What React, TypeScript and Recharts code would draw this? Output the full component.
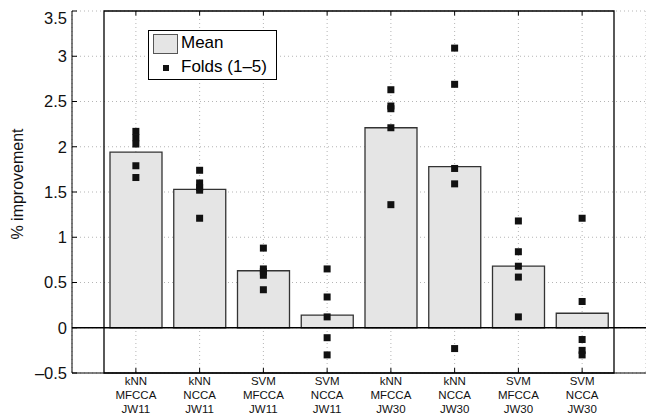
import { ComposedChart, Bar, Scatter, XAxis, YAxis, CartesianGrid, ReferenceLine, ReferenceArea, Legend } from "recharts";

const categories = [
  "kNN\nMFCCA\nJW11",
  "kNN\nNCCA\nJW11",
  "SVM\nMFCCA\nJW11",
  "SVM\nNCCA\nJW11",
  "kNN\nMFCCA\nJW30",
  "kNN\nNCCA\nJW30",
  "SVM\nMFCCA\nJW30",
  "SVM\nNCCA\nJW30",
];

const means = [1.94, 1.53, 0.63, 0.14, 2.21, 1.78, 0.68, 0.16];

// five folds per category
const folds = [
  [2.17, 2.1, 2.03, 1.79, 1.66],
  [1.74, 1.6, 1.55, 1.52, 1.21],
  [0.88, 0.65, 0.62, 0.58, 0.42],
  [0.65, 0.34, 0.12, -0.11, -0.3],
  [2.63, 2.45, 2.42, 2.21, 1.36],
  [3.09, 2.69, 1.76, 1.59, -0.23],
  [1.18, 0.84, 0.68, 0.56, 0.12],
  [1.21, 0.29, -0.13, -0.25, -0.3],
];

const yTicks = [-0.5, 0, 0.5, 1, 1.5, 2, 2.5, 3, 3.5];

const data = categories.map((name, i) => ({
  name,
  mean: means[i],
  f1: folds[i][0],
  f2: folds[i][1],
  f3: folds[i][2],
  f4: folds[i][3],
  f5: folds[i][4],
}));

const font = "'Liberation Sans', Arial, Helvetica, sans-serif";
const foldKeys = ["f1", "f2", "f3", "f4", "f5"];
const yMin = yTicks[0];
const yMax = yTicks[yTicks.length - 1];

const fmt = (v: number) => (v < 0 ? "\u2013" + Math.abs(v) : String(v));

function Square(props: any) {
  const { cx, cy } = props;
  if (cx == null || cy == null) return null;
  return <rect x={cx - 3.5} y={cy - 3.5} width={7} height={7} fill="#111" />;
}

function CatTick(props: any) {
  const { x, y, payload } = props;
  const lines = String(payload.value).split("\n");
  return (
    <text x={x} y={y} textAnchor="middle" fontFamily={font} fontSize={11.5} fill="#111">
      {lines.map((l, i) => (
        <tspan key={i} x={x} y={y + 12 + i * 14}>
          {l}
        </tspan>
      ))}
    </text>
  );
}

function LegendBox() {
  return (
    <div
      style={{
        width: 127,
        height: 48,
        border: "1px solid #000",
        background: "#fff",
        fontFamily: font,
        fontSize: 17,
        color: "#000",
        position: "relative",
      }}
    >
      <div style={{ position: "absolute", left: 4, top: 3, width: 23, height: 18, background: "#e5e5e5", border: "1px solid #555" }} />
      <div style={{ position: "absolute", left: 32, top: 2, lineHeight: "20px" }}>Mean</div>
      <div style={{ position: "absolute", left: 14, top: 34, width: 6, height: 6, background: "#111" }} />
      <div style={{ position: "absolute", left: 32, top: 26, lineHeight: "20px" }}>Folds (1–5)</div>
    </div>
  );
}

export default function App() {
  return (
    <ComposedChart width={646} height={408} data={data} margin={{ top: 3, right: 8, bottom: 0, left: 0 }}>
      <CartesianGrid stroke="#b5b5b5" strokeDasharray="1 3" />
      <XAxis
        dataKey="name"
        padding={{ left: 32, right: 32 }}
        height={43}
        tickSize={-5}
        tickMargin={5}
        stroke="#000"
        tick={<CatTick />}
        interval={0}
      />
      <YAxis
        domain={[yMin, yMax]}
        ticks={yTicks}
        width={64}
        tickSize={-5}
        tickMargin={10}
        stroke="#000"
        tickFormatter={fmt}
        tick={{ fontFamily: font, fontSize: 16.5, fill: "#111" }}
        label={{
          content: () => (
            <text x={9} y={176} transform="rotate(-90 9 176)" textAnchor="middle" dominantBaseline="central" fontFamily={font} fontSize={16} fill="#111">
              % improvement
            </text>
          ),
        }}
      />
      <Bar dataKey="mean" fill="#e5e5e5" stroke="#333" strokeWidth={1.3} barSize={52} isAnimationActive={false} />
      <ReferenceLine y={0} stroke="#000" strokeWidth={1.3} />
      <ReferenceArea y1={yMin} y2={yMax} fill="none" fillOpacity={0} stroke="#000" strokeWidth={1.3} />
      {categories.map((c) => (
        <ReferenceLine
          key={c}
          segment={[
            { x: c, y: yMax },
            { x: c, y: yMax - 0.05 },
          ]}
          stroke="#000"
        />
      ))}
      {foldKeys.map((k) => (
        <Scatter key={k} dataKey={k} shape={<Square />} isAnimationActive={false} />
      ))}
      <Legend
        layout="horizontal"
        verticalAlign="middle"
        align="center"
        content={() => <LegendBox />}
        wrapperStyle={{ position: "absolute", left: 140, top: 22, width: "auto" }}
      />
    </ComposedChart>
  );
}
